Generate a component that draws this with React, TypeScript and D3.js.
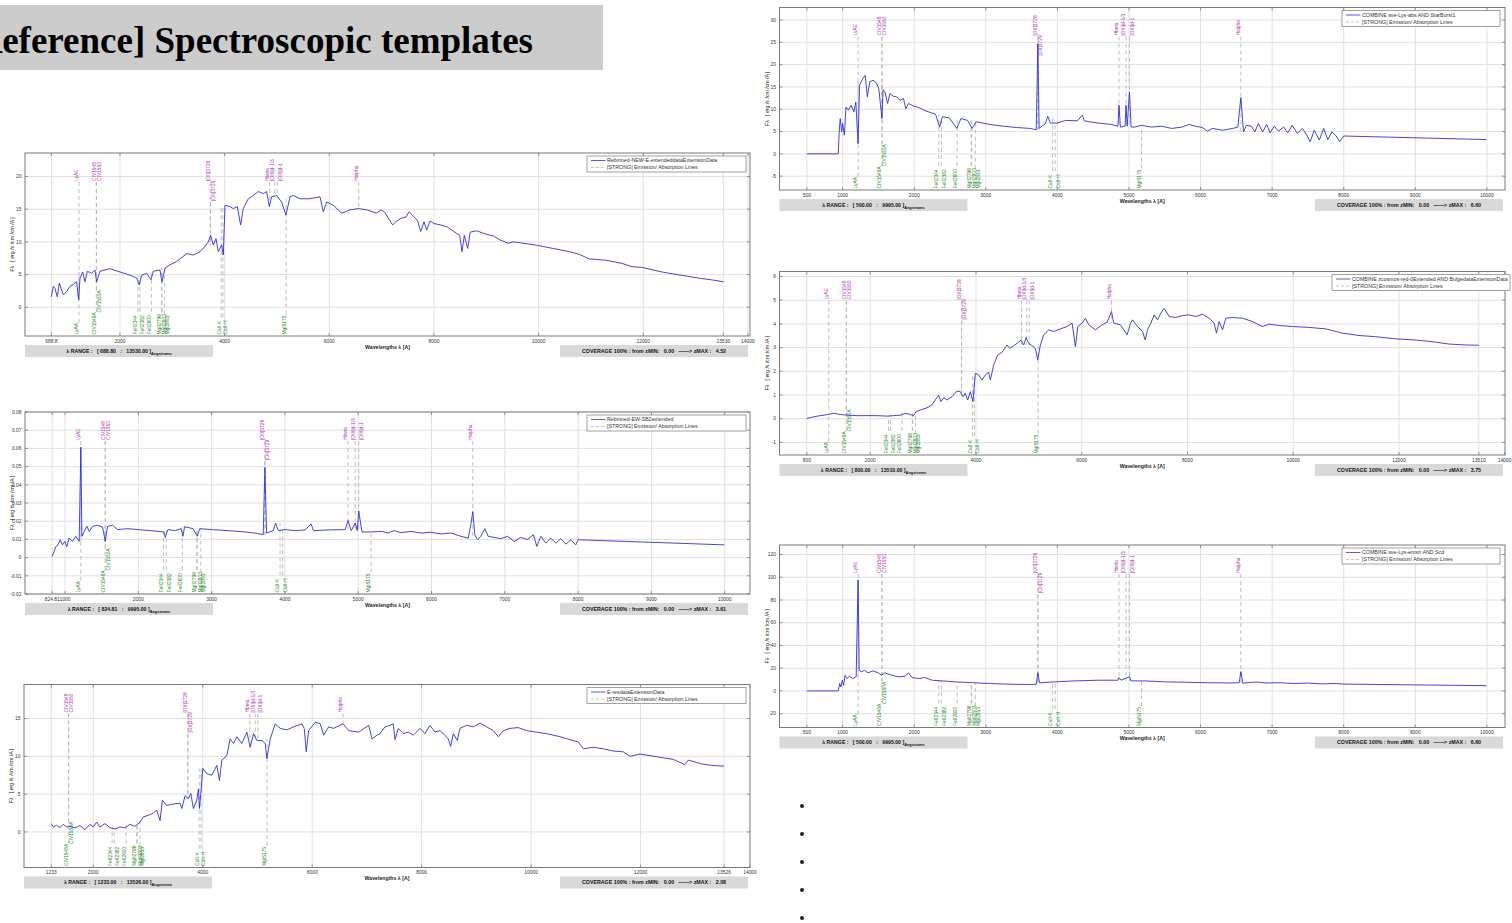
import React from "react";
import * as d3 from "d3";

// ---------------- DATA ----------------
// spectra as [wavelength (Å), flux]
const spectrumA: [number, number][] = [
  [688.8,1.6],[726,3.2],[758,2.9],[802,1.6],[841,3.7],[873,2.9],[917,1.9],[981,2.4],[1045,3.2],[1108,3.5],
  [1172,3.9],[1210,1.1],[1236,4.4],[1287,5.4],[1331,3.9],[1376,5.5],[1459,5.2],[1522,5.7],[1554,3.9],[1618,5.5],
  [1809,5.9],[2000,5.4],[2191,4.9],[2319,4.5],[2369,3.4],[2414,4.9],[2510,5.2],[2592,4.2],[2637,5.5],[2764,5.7],
  [2803,3.9],[2860,6.0],[2956,6.5],[3083,7.0],[3274,8.2],[3401,8.0],[3529,8.5],[3624,9.3],[3688,10.0],[3733,11.0],
  [3784,9.5],[3835,10.5],[3879,8.5],[3943,9.5],[3975,8.0],[4007,15.6],[4102,15.4],[4166,15.1],[4242,15.4],[4306,12.6],
  [4357,15.1],[4452,16.6],[4548,17.1],[4644,17.7],[4739,17.4],[4803,17.7],[4854,15.4],[4898,16.9],[4994,17.1],[5089,16.1],
  [5172,14.1],[5249,16.9],[5312,17.1],[5440,16.6],[5631,16.6],[5822,16.9],[5886,14.6],[5949,16.1],[6077,15.6],[6236,14.4],
  [6395,14.9],[6555,15.1],[6714,14.9],[6905,14.4],[6990,14.9],[7053,14.6],[7116,13.8],[7211,12.6],[7274,13.1],[7369,13.6],
  [7464,13.8],[7527,14.6],[7621,13.8],[7684,13.3],[7748,11.6],[7811,13.1],[7861,11.8],[7924,13.2],[8000,12.8],[8126,12.6],
  [8252,12.3],[8379,11.6],[8492,11.0],[8536,8.5],[8581,11.0],[8644,9.0],[8694,11.5],[8820,11.7],[8947,11.3],[9136,10.9],
  [9262,10.3],[9420,9.8],[9514,10.0],[9704,9.8],[9956,9.5],[10272,9.0],[10587,8.5],[10776,8.1],[10966,7.4],[11281,7.2],
  [11597,6.7],[11786,6.2],[11975,6.1],[12354,5.4],[12796,4.8],[13111,4.4],[13300,4.2],[13530,3.9],
];

const spectrumB: [number, number][] = [
  [824.81,0.0006],[851,0.0033],[874,0.006],[905,0.007],[933,0.0098],[965,0.007],[997,0.0089],[1024,0.006],[1056,0.0107],[1102,0.0089],
  [1147,0.0117],[1193,0.0089],[1216,0.0607],[1230,0.0117],[1262,0.0144],[1298,0.0172],[1330,0.0144],[1376,0.0172],[1444,0.0178],[1513,0.0167],
  [1549,0.0089],[1581,0.0172],[1650,0.0178],[1718,0.0154],[1855,0.0159],[1992,0.0154],[2175,0.0148],[2348,0.0141],[2367,0.0111],[2403,0.0154],
  [2494,0.0148],[2586,0.0159],[2609,0.0117],[2631,0.017],[2746,0.0159],[2805,0.0117],[2837,0.0159],[2997,0.0154],[3225,0.0148],[3453,0.0141],
  [3590,0.0135],[3704,0.0126],[3727,0.0496],[3750,0.0135],[3841,0.0148],[3873,0.019],[3910,0.0148],[4001,0.0154],[4138,0.0148],[4275,0.0152],
  [4357,0.0185],[4389,0.0148],[4595,0.0152],[4823,0.0154],[4861,0.0204],[4905,0.0148],[4959,0.019],[4987,0.0148],[5007,0.0256],[5051,0.0141],
  [5188,0.0141],[5325,0.0144],[5400,0.0135],[5491,0.0148],[5582,0.0137],[5718,0.0144],[5855,0.0135],[5991,0.0139],[6127,0.013],[6264,0.0135],
  [6400,0.0117],[6500,0.0107],[6536,0.0181],[6563,0.0252],[6591,0.0126],[6627,0.0098],[6673,0.0117],[6727,0.0159],[6773,0.0117],[6854,0.0111],
  [6945,0.0104],[7036,0.0117],[7127,0.0089],[7218,0.0111],[7309,0.01],[7391,0.0126],[7436,0.0061],[7491,0.0117],[7559,0.008],[7627,0.0107],
  [7695,0.008],[7764,0.0104],[7832,0.0074],[7900,0.0098],[7968,0.007],[8000,0.0098],[9995,0.007],
];

const spectrumC: [number, number][] = [
  [1233,1.1],[1268,0.66],[1329,0.88],[1390,0.57],[1451,1.0],[1512,0.66],[1573,0.75],[1665,0.53],[1756,0.84],[1848,0.31],
  [1939,1.0],[2000,0.66],[2061,1.3],[2122,0.66],[2214,1.1],[2305,0.57],[2397,0.4],[2488,0.66],[2580,0.57],[2671,1.0],
  [2763,0.75],[2854,1.3],[2915,2.0],[3007,2.2],[3098,2.5],[3159,2.9],[3220,1.5],[3263,4.2],[3342,3.5],[3464,3.7],
  [3586,3.8],[3617,3.1],[3678,4.8],[3739,4.4],[3781,5.1],[3830,3.1],[3891,4.2],[3922,5.7],[3940,3.1],[3970,5.5],
  [4001,8.4],[4074,7.7],[4166,7.5],[4257,8.8],[4306,6.8],[4349,9.5],[4440,10.1],[4501,12.3],[4562,11.7],[4623,12.6],
  [4715,11.7],[4806,13.2],[4867,11.2],[4928,13.0],[4989,12.1],[5081,12.1],[5142,11.7],[5172,9.7],[5233,12.3],[5325,14.3],
  [5416,13.7],[5538,13.5],[5660,13.9],[5813,14.3],[5855,13.7],[5892,10.6],[5935,13.4],[6057,14.5],[6148,14.3],[6209,12.8],
  [6301,13.9],[6392,13.7],[6563,14.3],[6667,13.4],[6850,13.2],[7033,14.1],[7094,12.3],[7185,12.8],[7239,13.0],[7330,13.9],
  [7421,14.1],[7482,14.3],[7513,12.2],[7574,13.7],[7665,13.0],[7756,13.2],[7848,12.8],[7970,13.7],[8061,13.0],[8152,14.1],
  [8244,13.2],[8335,13.4],[8426,12.8],[8487,12.3],[8530,11.3],[8579,13.0],[8652,12.1],[8700,13.7],[8822,14.1],[8944,13.9],
  [9066,14.4],[9188,13.9],[9309,13.4],[9401,12.6],[9492,13.4],[9614,13.7],[9766,13.8],[9918,13.4],[10101,13.2],[10284,13.0],
  [10527,12.6],[10710,12.2],[10862,11.9],[10954,11.0],[11136,11.2],[11319,11.0],[11502,10.7],[11684,10.6],[11806,10.0],[11989,10.3],
  [12172,10.1],[12415,9.8],[12598,9.6],[12811,8.9],[12872,9.5],[13116,9.0],[13299,8.8],[13526,8.7],
];

const spectrumD: [number, number][] = [
  [500,0],[939,0],[953,5.3],[967,7.9],[986,4.9],[1000,6.8],[1024,4.2],[1047,10.5],[1080,9.8],[1118,10.9],
  [1156,9.4],[1184,11.6],[1216,2.3],[1236,15.4],[1283,16.9],[1316,17.6],[1345,12.8],[1378,16.1],[1425,16.5],[1472,15.9],
  [1505,14.6],[1549,7.9],[1565,14.4],[1590,13.9],[1628,11.3],[1661,13.5],[1708,12.9],[1755,12.8],[1802,12.0],[1850,12.4],
  [1883,10.1],[1920,11.3],[1991,10.7],[2062,10.4],[2133,9.8],[2204,9.4],[2298,8.9],[2355,6.0],[2392,8.3],[2487,8.1],
  [2595,5.7],[2652,7.9],[2746,7.5],[2808,5.7],[2864,7.2],[3053,6.6],[3242,6.2],[3431,5.9],[3620,5.7],[3705,5.4],
  [3727,24.7],[3745,5.7],[3832,6.8],[3865,8.4],[3903,6.9],[3997,6.9],[4115,7.5],[4280,7.4],[4351,8.7],[4375,7.4],
  [4564,6.9],[4752,6.6],[4845,6.2],[4861,10.9],[4880,6.0],[4945,6.2],[4959,10.9],[4975,6.2],[5007,13.9],[5030,6.0],
  [5076,6.0],[5171,6.4],[5313,6.0],[5455,6.2],[5597,5.7],[5739,6.0],[5834,6.6],[5929,6.2],[6024,5.9],[6095,5.1],
  [6166,5.7],[6308,5.3],[6450,5.7],[6521,6.0],[6563,12.6],[6600,4.9],[6640,6.4],[6711,6.2],[6758,4.9],[6806,6.8],
  [6867,4.9],[6924,6.6],[6972,4.7],[7029,6.2],[7090,5.1],[7161,6.0],[7218,4.7],[7280,6.4],[7351,4.6],[7422,5.7],
  [7484,4.2],[7531,2.7],[7588,5.3],[7659,3.1],[7721,5.7],[7778,3.2],[7834,4.9],[7896,4.0],[7943,2.7],[8000,4.0],
  [9995,3.2],
];

const spectrumE: [number, number][] = [
  [800,0.01],[927,0.08],[1054,0.13],[1211,0.18],[1306,0.23],[1432,0.18],[1558,0.15],[1748,0.13],[1937,0.13],[2126,0.13],
  [2316,0.11],[2442,0.13],[2568,0.15],[2663,0.23],[2757,0.18],[2820,0.13],[2871,0.3],[2947,0.37],[3073,0.46],[3167,0.58],
  [3230,0.79],[3294,1.0],[3338,0.72],[3388,0.89],[3451,0.79],[3546,0.93],[3641,1.17],[3704,1.14],[3754,0.93],[3798,1.07],
  [3843,0.79],[3893,1.14],[3943,0.72],[3988,1.92],[4051,1.85],[4114,1.63],[4177,1.85],[4240,1.96],[4272,1.63],[4335,2.27],
  [4410,2.69],[4492,2.8],[4587,3.11],[4638,2.97],[4713,3.08],[4776,3.18],[4852,3.32],[4903,3.11],[4947,3.42],[4997,3.18],
  [5060,3.08],[5123,2.97],[5168,2.48],[5218,3.11],[5281,3.54],[5376,3.75],[5471,3.68],[5597,3.79],[5723,3.89],[5818,4.03],
  [5881,3.04],[5925,3.89],[6007,4.03],[6070,4.24],[6133,3.96],[6259,3.75],[6385,3.96],[6480,4.07],[6563,4.52],[6606,4.03],
  [6733,3.96],[6859,3.54],[6922,4.03],[6960,4.17],[7055,3.89],[7150,3.68],[7200,3.32],[7244,3.75],[7307,4.03],[7370,4.38],
  [7433,4.17],[7496,4.45],[7559,4.66],[7654,4.31],[7780,4.27],[7906,4.35],[8032,4.38],[8158,4.31],[8284,4.41],[8410,4.24],
  [8504,4.03],[8548,3.61],[8599,4.1],[8662,3.75],[8725,4.24],[8851,4.27],[9040,4.24],[9229,4.1],[9418,3.89],[9544,3.99],
  [9733,3.93],[9985,3.89],[10300,3.85],[10615,3.79],[10930,3.61],[11245,3.51],[11560,3.46],[11938,3.37],[12316,3.32],[12631,3.25],
  [12946,3.15],[13261,3.11],[13510,3.1],
];

const spectrumF: [number, number][] = [
  [500,0],[939,0],[958,6.5],[976,3.5],[995,9.4],[1014,5.0],[1033,13.8],[1061,10.9],[1094,12.9],[1142,10.9],
  [1189,12.4],[1216,97.6],[1231,18.2],[1260,16.8],[1307,18.2],[1354,15.9],[1425,17.6],[1496,15.9],[1543,13.8],[1590,15.9],
  [1684,13.8],[1779,12.4],[1873,12.9],[1920,15.9],[1968,11.8],[2062,10.9],[2147,11.8],[2251,9.4],[2392,8.8],[2581,7.9],
  [2770,7.4],[3053,6.5],[3336,5.9],[3620,5.6],[3705,5.9],[3727,15.9],[3750,7.1],[3950,7.9],[4233,8.8],[4564,9.4],
  [4845,9.4],[4861,11.8],[4890,9.4],[5007,12.4],[5030,8.8],[5224,8.8],[5500,8.0],[5800,7.6],[6100,7.2],[6400,7.0],
  [6540,7.2],[6563,17.0],[6590,6.8],[6700,7.5],[6800,7.8],[6900,7.0],[7100,7.2],[7300,6.5],[7500,6.9],[7700,6.2],
  [7900,6.5],[8000,6.0],[9995,4.6],
];

// axis ticks
const xTicksA = [688.8, 2000, 4000, 6000, 8000, 10000, 12000, 13530, 14000];
const xTickLabelsA = ["688.8", "2000", "4000", "6000", "8000", "10000", "12000", "13530", "14000"];
const yTicksA = [0, 5, 10, 15, 20];

const xTicksB = [824.81, 1000, 2000, 3000, 4000, 5000, 6000, 7000, 8000, 9000, 10000];
const xTickLabelsB = ["824.81", "1000", "2000", "3000", "4000", "5000", "6000", "7000", "8000", "9000", "10000"];
const yTicksB = [-0.02, -0.01, 0, 0.01, 0.02, 0.03, 0.04, 0.05, 0.06, 0.07, 0.08];

const xTicksC = [1233, 2000, 4000, 6000, 8000, 10000, 12000, 13526, 14000];
const xTickLabelsC = ["1233", "2000", "4000", "6000", "8000", "10000", "12000", "13526", "14000"];
const yTicksC = [0, 5, 10, 15];

const xTicksD = [500, 1000, 2000, 3000, 4000, 5000, 6000, 7000, 8000, 9000, 10000];
const xTickLabelsD = ["500", "1000", "2000", "3000", "4000", "5000", "6000", "7000", "8000", "9000", "10000"];
const yTicksD = [-5, 0, 5, 10, 15, 20, 25, 30];

const xTicksE = [800, 2000, 4000, 6000, 8000, 10000, 12000, 13510, 14000];
const xTickLabelsE = ["800", "2000", "4000", "6000", "8000", "10000", "12000", "13510", "14000"];
const yTicksE = [-1, 0, 1, 2, 3, 4, 5, 6];

const xTicksF = xTicksD;
const xTickLabelsF = xTickLabelsD;
const yTicksF = [-20, 0, 20, 40, 60, 80, 100, 120];

// template names and summary values
const templateNames = [
  "Rebinned-NEW-E-extendeddataExtensionData",
  "Rebinned-EW-SB2extended",
  "E-resdataExtensionData",
  "COMBINE sve-Lys-abs AND StarBurst1",
  "COMBINE zcosmos-red-0Extended AND BulgedataExtensionData",
  "COMBINE sve-Lys-emstr AND Scd",
];
const rangeMin = ["688.80", "824.81", "1233.00", "500.00", "800.00", "500.00"];
const rangeMax = ["13530.00", "9995.00", "13526.00", "9995.00", "13510.00", "9995.00"];
const zMax = ["4.52", "3.61", "2.08", "6.60", "3.75", "6.60"];

// spectral lines
const emissionNames = ["LyAE", "CIV1548", "CIV1550", "[OII]3726", "[OII]3729", "Hbeta", "[OIII]d-1/3", "[OIII]d-1", "Halpha"];
const emissionWl = [1216, 1548, 1550, 3726, 3729, 4861, 4959, 5007, 6563];
const absorptionNames = ["LyAA", "CIV1548A", "CIV1550A", "FeII2344", "FeII2382", "FeII2600", "MgII2796", "MgII2803", "MgI2853", "CaII-K", "CaII-H", "MgI5175"];
const absorptionWl = [1216, 1548, 1550, 2344, 2382, 2600, 2796, 2803, 2853, 3934, 3969, 5175];

// ---------------- LAYOUT / STYLE ----------------
const emissionSide = ["L", "L", "R", "L", "R", "L", "L", "R", "L"];
const emissionShift = [0, 0, 0, 0, 20, 0, 0, 0, 0];
const absorptionSide = ["L", "L", "R", "L", "R", "L", "L", "R", "R", "L", "R", "L"];
const absorptionShift = [0, 0, 22, 0, 0, 0, 0, 0, 0, 0, 0, 0];

const LAYOUTS = [
  { left: 25, right: 750, top: 153, bottom: 336, xDomain: [185, 14040], yDomain: [-4.4, 23.6], legendLeft: 587, legendWidth: 159 },
  { left: 25, right: 750, top: 412, bottom: 594, xDomain: [454, 10345], yDomain: [-0.02, 0.08], legendLeft: 587, legendWidth: 159 },
  { left: 24, right: 750, top: 684.5, bottom: 867.5, xDomain: [734, 14000], yDomain: [-4.7, 19.5], legendLeft: 587, legendWidth: 159 },
  { left: 779.5, right: 1505, top: 7.5, bottom: 190, xDomain: [118, 10253], yDomain: [-8.1, 32.8], legendLeft: 1342, legendWidth: 158 },
  { left: 779.5, right: 1505, top: 271.5, bottom: 455, xDomain: [284, 14005], yDomain: [-1.53, 6.21], legendLeft: 1332, legendWidth: 178 },
  { left: 779.5, right: 1505, top: 545, bottom: 727.5, xDomain: [118, 10253], yDomain: [-32.2, 128.4], legendLeft: 1342, legendWidth: 158 },
];

const SPECTRA = [spectrumA, spectrumB, spectrumC, spectrumD, spectrumE, spectrumF];
const XTICKS = [xTicksA, xTicksB, xTicksC, xTicksD, xTicksE, xTicksF];
const XTICKLABELS = [xTickLabelsA, xTickLabelsB, xTickLabelsC, xTickLabelsD, xTickLabelsE, xTickLabelsF];
const YTICKS = [yTicksA, yTicksB, yTicksC, yTicksD, yTicksE, yTicksF];

const SANS = "'Liberation Sans', Arial, Helvetica, sans-serif";
const BLUE = "#2f2fe2";
const MAGENTA = "#b03ab0";
const GREEN = "#2f8a2f";
const GRID = "#e0e0e0";
const FRAME = "#7a7a7a";
const DASH = "#b8b8b8";

const BULLET_Y = [806, 834, 862, 890, 918];

function localExtreme(spec: [number, number][], center: number, w: number, mode: "min" | "max") {
  let best = mode === "min" ? Infinity : -Infinity;
  for (const [l, f] of spec) {
    if (Math.abs(l - center) <= w) best = mode === "min" ? Math.min(best, f) : Math.max(best, f);
  }
  const wls = spec.map((d) => d[0]);
  const i = d3.bisectLeft(wls, center);
  if (i > 0 && i < spec.length) {
    const t = (center - spec[i - 1][0]) / (spec[i][0] - spec[i - 1][0]);
    const v = spec[i - 1][1] + t * (spec[i][1] - spec[i - 1][1]);
    best = mode === "min" ? Math.min(best, v) : Math.max(best, v);
  }
  return best;
}

function fmtY(v: number) {
  return String(+v.toFixed(2));
}

function Panel({ idx }: { idx: number }) {
  const L = LAYOUTS[idx];
  const spec = SPECTRA[idx];
  const x = d3.scaleLinear().domain(L.xDomain).range([L.left, L.right]);
  const y = d3.scaleLinear().domain(L.yDomain).range([L.bottom, L.top]);
  const line = d3
    .line<[number, number]>()
    .x((d) => x(d[0]))
    .y((d) => y(d[1]));
  const wMin = spec[0][0];
  const wMax = spec[spec.length - 1][0];
  const xt = XTICKS[idx];
  const yt = YTICKS[idx];
  const midX = (L.left + L.right) / 2;
  const midY = (L.top + L.bottom) / 2;
  const els: React.ReactNode[] = [];

  // emission (top)
  emissionWl.forEach((wl, i) => {
    if (wl < wMin || wl > wMax) return;
    const lx = x(wl);
    const sy = L.top + 28 + emissionShift[i];
    const yEnd = y(localExtreme(spec, wl, 80, "min"));
    if (yEnd > sy + 1)
      els.push(<line key={"el" + i} x1={lx} x2={lx} y1={sy + 1} y2={yEnd} stroke={DASH} strokeWidth={0.9} strokeDasharray="4 3" />);
    const tx = emissionSide[i] === "L" ? lx - 0.6 : lx + 4.4;
    els.push(
      <text key={"et" + i} transform={`translate(${tx},${sy}) rotate(-90)`} fill={MAGENTA} fontSize={4.9} fontFamily={SANS}>
        {emissionNames[i]}
      </text>
    );
  });
  // absorption (bottom)
  absorptionWl.forEach((wl, i) => {
    if (wl < wMin || wl > wMax) return;
    const lx = x(wl);
    const sy = L.bottom - 1.5 - absorptionShift[i];
    const len = absorptionNames[i].length * 2.7;
    const yEnd = y(localExtreme(spec, wl, 80, "max"));
    if (yEnd < sy - len - 1)
      els.push(<line key={"al" + i} x1={lx} x2={lx} y1={sy - len - 1} y2={yEnd} stroke={DASH} strokeWidth={0.9} strokeDasharray="4 3" />);
    const tx = absorptionSide[i] === "L" ? lx - 0.6 : lx + 4.4;
    els.push(
      <text key={"at" + i} transform={`translate(${tx},${sy}) rotate(-90)`} fill={GREEN} fontSize={4.9} fontFamily={SANS}>
        {absorptionNames[i]}
      </text>
    );
  });

  const lg = { left: L.legendLeft, top: L.top + 3, w: L.legendWidth };

  return (
    <g>
      <rect x={L.left} y={L.top} width={L.right - L.left} height={L.bottom - L.top} fill="#fff" />
      {/* grid */}
      {xt.map((t, i) =>
        Math.abs(x(t) - L.right) < 2 ? null : (
          <line key={"gx" + i} x1={x(t)} x2={x(t)} y1={L.top} y2={L.bottom} stroke={GRID} strokeWidth={1} />
        )
      )}
      {yt.map((t, i) => (
        <line key={"gy" + i} x1={L.left} x2={L.right} y1={y(t)} y2={y(t)} stroke={GRID} strokeWidth={1} />
      ))}
      {/* line markers */}
      {els}
      {/* spectrum */}
      <path d={line(spec) || ""} fill="none" stroke={BLUE} strokeWidth={0.9} strokeLinejoin="round" />
      {/* frame */}
      <rect x={L.left} y={L.top} width={L.right - L.left} height={L.bottom - L.top} fill="none" stroke={FRAME} strokeWidth={1} />
      {xt.map((t, i) => (
        <g key={"tx" + i}>
          <line x1={x(t)} x2={x(t)} y1={L.bottom} y2={L.bottom - 3} stroke={FRAME} strokeWidth={0.8} />
          <line x1={x(t)} x2={x(t)} y1={L.top} y2={L.top + 3} stroke={FRAME} strokeWidth={0.8} />
          <text x={x(t)} y={L.bottom + 6.5} textAnchor="middle" fontSize={4.9} fontFamily={SANS} fill="#333">
            {XTICKLABELS[idx][i]}
          </text>
        </g>
      ))}
      {yt.map((t, i) => (
        <g key={"ty" + i}>
          <line x1={L.left} x2={L.left + 3} y1={y(t)} y2={y(t)} stroke={FRAME} strokeWidth={0.8} />
          <line x1={L.right - 3} x2={L.right} y1={y(t)} y2={y(t)} stroke={FRAME} strokeWidth={0.8} />
          <text x={L.left - 3.5} y={y(t) + 1.7} textAnchor="end" fontSize={4.9} fontFamily={SANS} fill="#333">
            {fmtY(t)}
          </text>
        </g>
      ))}
      {/* axis labels */}
      <text x={midX} y={L.bottom + 12.5} textAnchor="middle" fontSize={5.2} fontWeight="bold" fontFamily={SANS} fill="#222">
        Wavelengths λ [A]
      </text>
      <text
        transform={`translate(${L.left - 11},${midY}) rotate(-90)`}
        textAnchor="middle"
        fontSize={5.2}
        fontFamily={SANS}
        fill="#222"
        style={{ whiteSpace: "pre" }}
      >
        {"Fλ   [ erg /s /cm /cm /A ]"}
      </text>
      {/* legend */}
      <rect x={lg.left} y={lg.top} width={lg.w} height={16} fill="#fff" stroke="#8a8a8a" strokeWidth={0.8} />
      <line x1={lg.left + 4} x2={lg.left + 18.5} y1={lg.top + 4.5} y2={lg.top + 4.5} stroke={BLUE} strokeWidth={0.8} />
      <text x={lg.left + 20} y={lg.top + 6.4} fontSize={5.3} fontFamily={SANS} fill="#333">
        {templateNames[idx]}
      </text>
      <line x1={lg.left + 4} x2={lg.left + 18.5} y1={lg.top + 11.5} y2={lg.top + 11.5} stroke={DASH} strokeWidth={0.8} strokeDasharray="3 2" />
      <text x={lg.left + 20} y={lg.top + 13.4} fontSize={5.3} fontFamily={SANS} fill="#333">
        [STRONG] Emission/ Absorption Lines
      </text>
      {/* range box */}
      <rect x={L.left} y={L.bottom + 9} width={188} height={12} fill="#d9d9d9" />
      <text
        x={L.left + 94}
        y={L.bottom + 16.8}
        textAnchor="middle"
        fontSize={5.2}
        fontWeight="bold"
        fontFamily={SANS}
        fill="#111"
        style={{ whiteSpace: "pre" }}
      >
        {`λ RANGE :   [ ${rangeMin[idx]}   :   ${rangeMax[idx]} ]`}
        <tspan fontSize={3.9} dy={1.8}>
          Angstroms
        </tspan>
      </text>
      {/* coverage box */}
      <rect x={L.right - 190} y={L.bottom + 9} width={188} height={12} fill="#d9d9d9" />
      <text
        x={L.right - 96}
        y={L.bottom + 16.8}
        textAnchor="middle"
        fontSize={5.3}
        fontWeight="bold"
        fontFamily={SANS}
        fill="#111"
        style={{ whiteSpace: "pre" }}
      >
        {`COVERAGE 100% : from zMIN:   0.00   ——> zMAX :   ${zMax[idx]}`}
      </text>
    </g>
  );
}

export default function App() {
  return (
    <svg
      width={1512}
      height={923}
      viewBox="0 0 1512 923"
      style={{ position: "absolute", left: 0, top: 0, background: "#fff" }}
    >
      <rect x={0} y={0} width={1512} height={923} fill="#fff" />
      <rect x={0} y={5} width={603} height={65} fill="#cccccc" />
      <text
        x={533}
        y={53}
        textAnchor="end"
        fontFamily="'Liberation Serif', 'Times New Roman', Times, serif"
        fontWeight="bold"
        fontSize={37}
        fill="#000"
      >
        [Reference] Spectroscopic templates
      </text>
      {LAYOUTS.map((_, i) => (
        <Panel key={i} idx={i} />
      ))}
      {BULLET_Y.map((by, i) => (
        <circle key={i} cx={802} cy={by} r={2} fill="#222" />
      ))}
    </svg>
  );
}
